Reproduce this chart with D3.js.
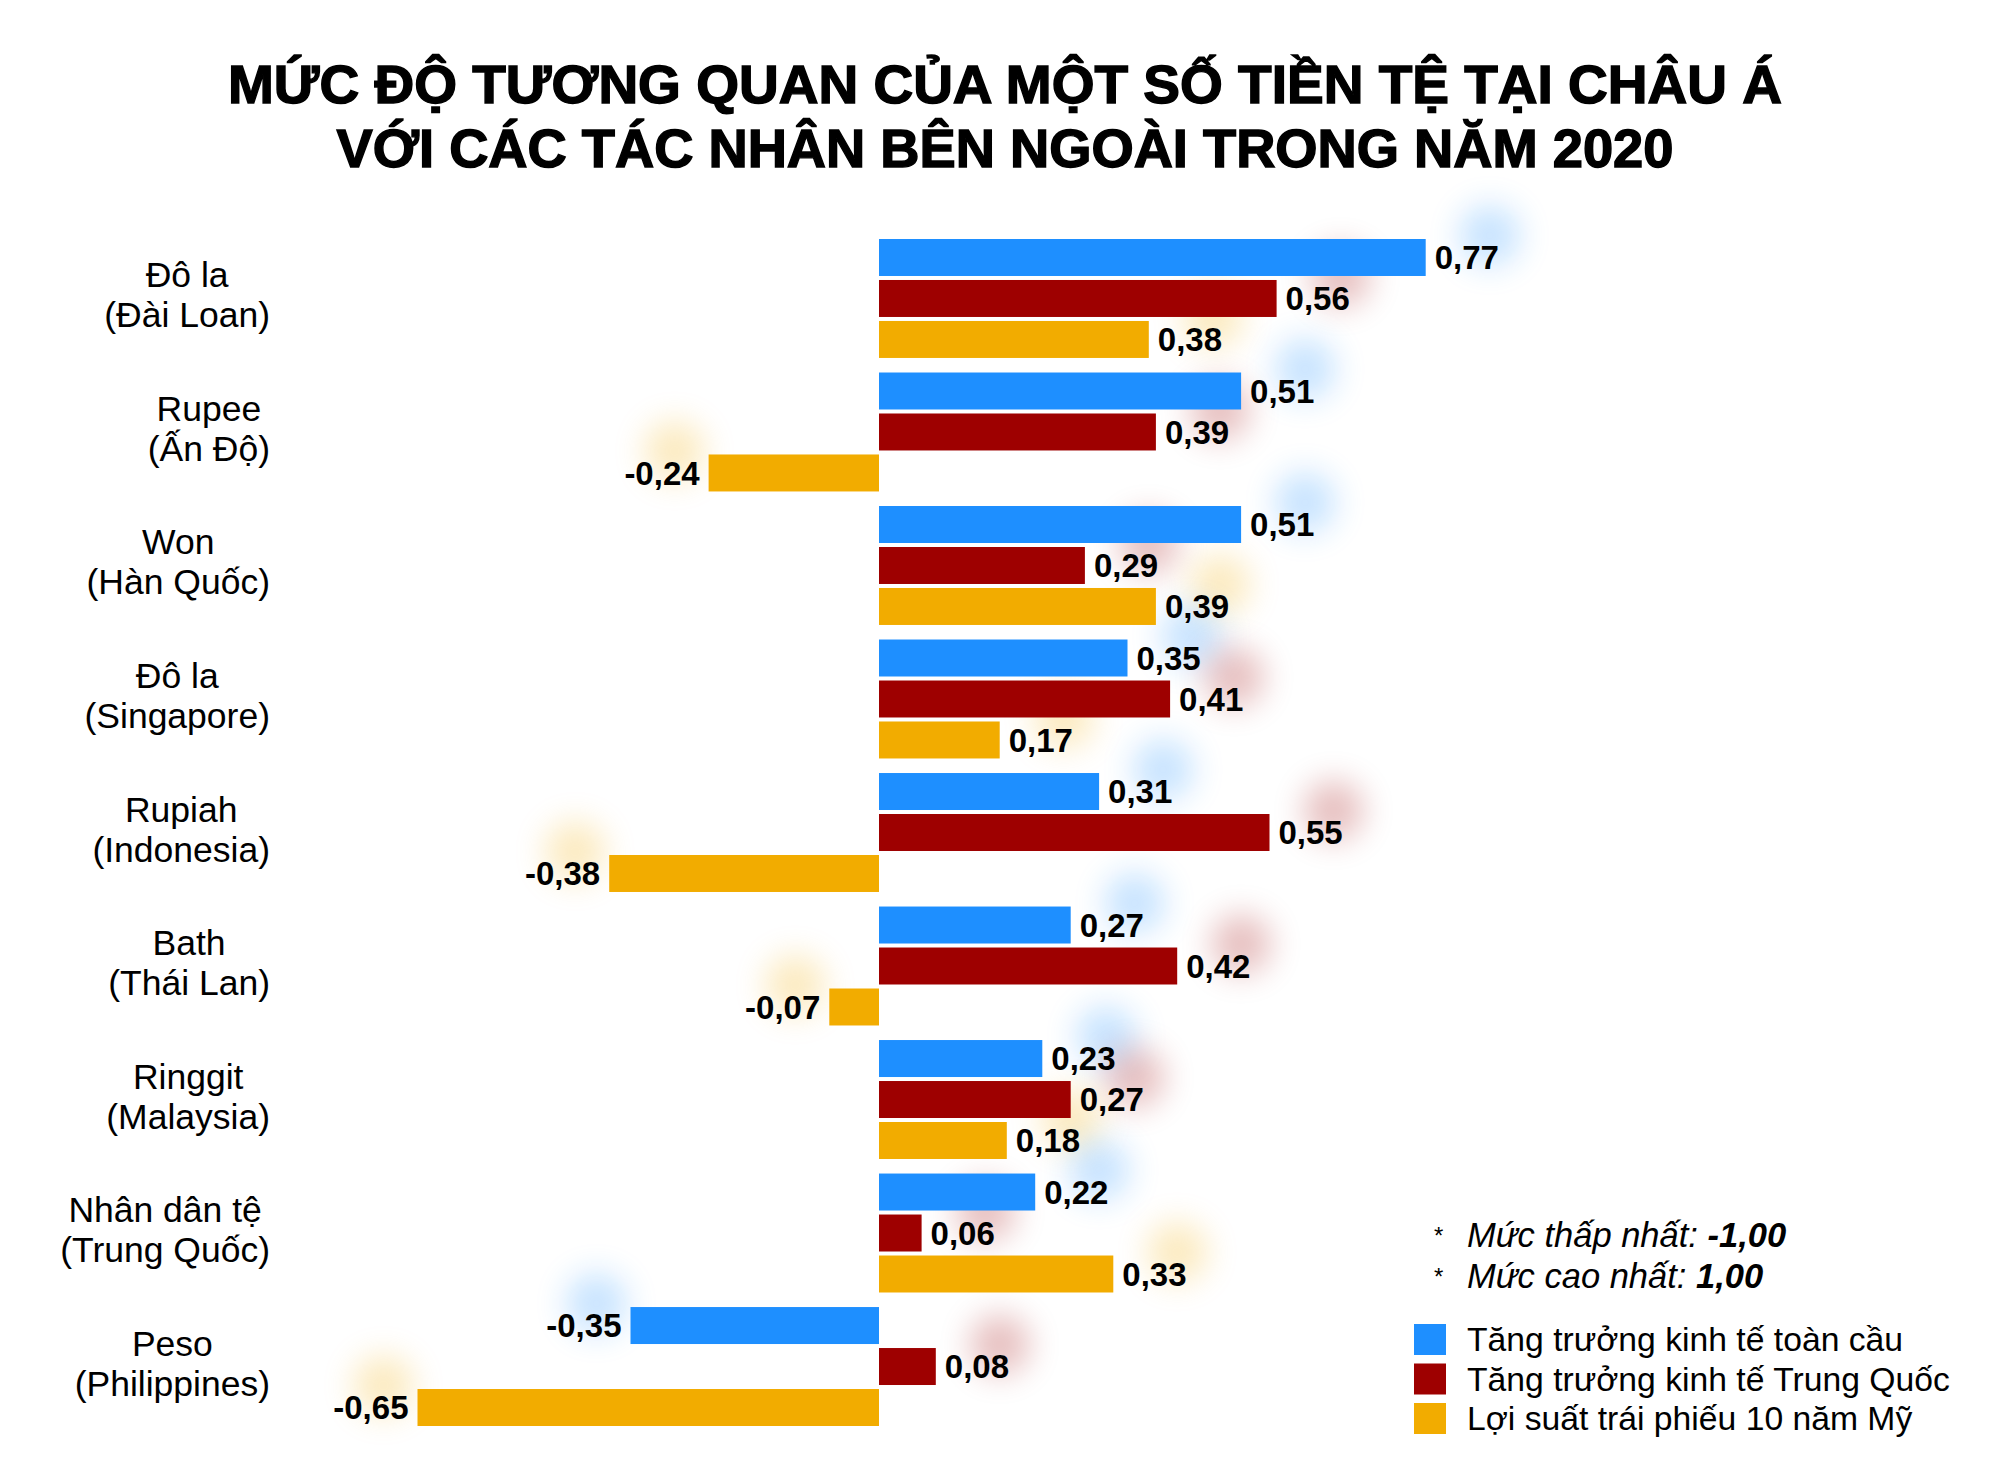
<!DOCTYPE html>
<html>
<head>
<meta charset="utf-8">
<script src="https://cdn.jsdelivr.net/npm/d3@7"></script>
<style>
  body { margin: 0; background: white; }
  text { font-family: "Helvetica Neue", Helvetica, "Liberation Sans", Arial, sans-serif; }
</style>
</head>
<body>
<div id="chart"></div>
<script>
// Data
const currencies = ["Đô la", "Rupee", "Won", "Đô la", "Rupiah", "Bath", "Ringgit", "Nhân dân tệ", "Peso"];
const countries = ["(Đài Loan)", "(Ấn Độ)", "(Hàn Quốc)", "(Singapore)", "(Indonesia)", "(Thái Lan)", "(Malaysia)", "(Trung Quốc)", "(Philippines)"];
const seriesNames = ["Tăng trưởng kinh tế toàn cầu", "Tăng trưởng kinh tế Trung Quốc", "Lợi suất trái phiếu 10 năm Mỹ"];
const globalGrowth = [0.77, 0.51, 0.51, 0.35, 0.31, 0.27, 0.23, 0.22, -0.35];
const chinaGrowth = [0.56, 0.39, 0.29, 0.41, 0.55, 0.42, 0.27, 0.06, 0.08];
const usBondYield = [0.38, -0.24, 0.39, 0.17, -0.38, -0.07, 0.18, 0.33, -0.65];
const colors = ["#1e8fff", "#9e0000", "#f2ac00"];
const titleLines = ["MỨC ĐỘ TƯƠNG QUAN CỦA MỘT SỐ TIỀN TỆ TẠI CHÂU Á", "VỚI CÁC TÁC NHÂN BÊN NGOÀI TRONG NĂM 2020"];

const width = 2000, height = 1483;

const svg = d3.select('#chart')
  .append('svg')
  .attr('width', width)
  .attr('height', height)
  .style('background', 'white');

// soft glow behind value labels
svg.append('defs').append('filter')
  .attr('id', 'glow')
  .attr('x', '-100%').attr('y', '-100%')
  .attr('width', '300%').attr('height', '300%')
  .append('feGaussianBlur')
  .attr('stdDeviation', 16);

// Title
svg.selectAll('.title')
  .data(titleLines)
  .join('text')
  .attr('class', 'title')
  .attr('x', 1005)
  .attr('y', (d, i) => 103 + i * 64)
  .attr('text-anchor', 'middle')
  .attr('textLength', (d, i) => i === 0 ? 1554 : 1337)
  .attr('lengthAdjust', 'spacingAndGlyphs')
  .style('font-size', '53px')
  .style('font-weight', 'bold')
  .style('stroke', 'black')
  .style('stroke-width', 1.4)
  .text(d => d);

// Scales
const rows = currencies.map((c, i) => i);

const xScale = d3.scaleLinear()
  .domain([-1, 1])
  .range([169, 1589]);

const yScale = d3.scaleBand()
  .domain(rows)
  .range([239, 1426])
  .paddingInner(0.109)
  .paddingOuter(0);

const ySub = d3.scaleBand()
  .domain([0, 1, 2])
  .range([0, yScale.bandwidth()])
  .paddingInner(0.0976)
  .paddingOuter(0);

const seriesValues = [globalGrowth, chinaGrowth, usBondYield];

// flatten into bar records
const bars = [];
rows.forEach(i => {
  seriesValues.forEach((vals, s) => {
    bars.push({row: i, s: s, v: vals[i]});
  });
});

const fmt = v => (v < 0 ? '-' : '') + Math.abs(v).toFixed(2).replace('.', ',');
const labelX = d => d.v >= 0 ? xScale(d.v) + 9 : xScale(d.v) - 9;
const midY = d => yScale(d.row) + ySub(d.s) + ySub.bandwidth() / 2;

// glow blobs
svg.append('g')
  .selectAll('circle')
  .data(bars)
  .join('circle')
  .attr('cx', d => d.v >= 0 ? labelX(d) + 55 : labelX(d) - 25)
  .attr('cy', d => midY(d) - 22)
  .attr('r', 30)
  .attr('fill', d => colors[d.s])
  .attr('opacity', 0.25)
  .attr('filter', 'url(#glow)');

// Bars
svg.append('g')
  .selectAll('rect')
  .data(bars)
  .join('rect')
  .attr('x', d => xScale(Math.min(0, d.v)))
  .attr('y', d => yScale(d.row) + ySub(d.s))
  .attr('width', d => Math.abs(xScale(d.v) - xScale(0)))
  .attr('height', ySub.bandwidth())
  .attr('fill', d => colors[d.s]);

// Value labels
svg.append('g')
  .selectAll('text')
  .data(bars)
  .join('text')
  .attr('x', labelX)
  .attr('y', midY)
  .attr('dy', '0.36em')
  .attr('text-anchor', d => d.v >= 0 ? 'start' : 'end')
  .style('font-size', '33px')
  .style('font-weight', 'bold')
  .text(d => fmt(d.v));

// Category labels, two centred lines, block right-aligned
const catRight = 270;
rows.forEach(i => {
  const g = svg.append('g');
  const cy = yScale(i) + yScale.bandwidth() / 2;
  const t1 = g.append('text')
    .attr('y', cy - 11)
    .attr('text-anchor', 'middle')
    .style('font-size', '35.5px')
    .text(currencies[i]);
  const t2 = g.append('text')
    .attr('y', cy + 29)
    .attr('text-anchor', 'middle')
    .style('font-size', '35.5px')
    .text(countries[i]);
  const w = Math.max(t1.node().getComputedTextLength(), t2.node().getComputedTextLength());
  g.attr('transform', `translate(${catRight - w / 2},0)`);
});

// Notes
const notes = [["Mức thấp nhất: ", "-1,00"], ["Mức cao nhất: ", "1,00"]];
notes.forEach((n, i) => {
  const y = 1247 + i * 41;
  svg.append('text')
    .attr('x', 1434)
    .attr('y', y - 3)
    .style('font-size', '24px')
    .text('*');
  const t = svg.append('text')
    .attr('x', 1467)
    .attr('y', y)
    .style('font-size', '34.5px')
    .style('font-style', 'italic');
  t.append('tspan').text(n[0]);
  t.append('tspan').style('font-weight', 'bold').text(n[1]);
});

// Legend
const legend = svg.append('g');
seriesNames.forEach((name, i) => {
  legend.append('rect')
    .attr('x', 1414)
    .attr('y', 1324 + i * 39.5)
    .attr('width', 32)
    .attr('height', 31)
    .attr('fill', colors[i]);
  legend.append('text')
    .attr('x', 1467)
    .attr('y', 1351 + i * 39.5)
    .style('font-size', '33.7px')
    .text(name);
});
</script>
</body>
</html>
